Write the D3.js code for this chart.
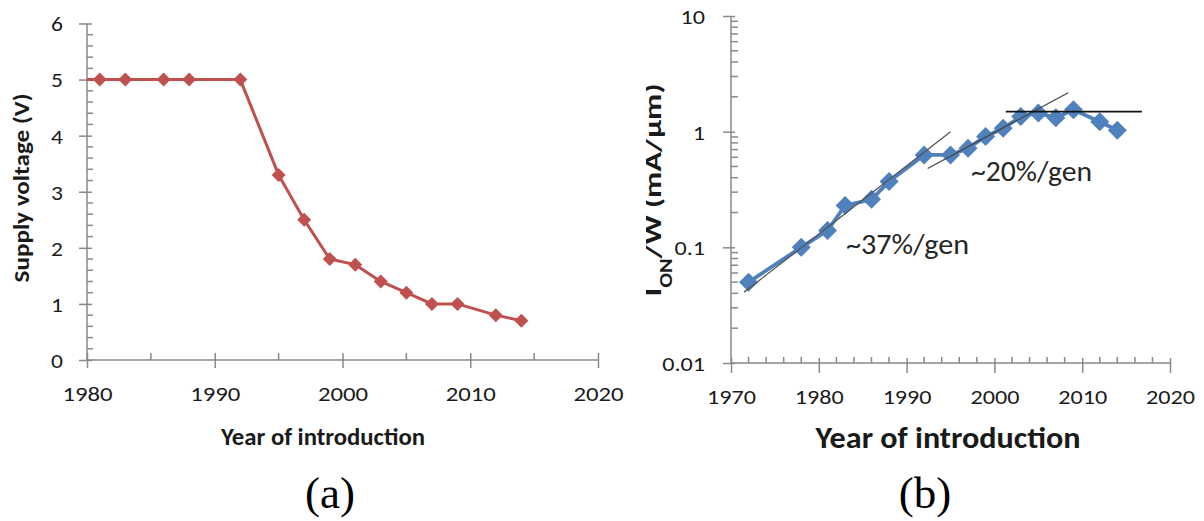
<!DOCTYPE html>
<html><head><meta charset="utf-8">
<script src="https://cdn.jsdelivr.net/npm/d3@7"></script>
<style>
html,body{margin:0;padding:0;background:#fff;}
svg text{font-family:Carlito,Calibri,Lato,"Open Sans",sans-serif;fill:#1a1a1a;}
</style></head>
<body><svg id="c" width="1204" height="521"></svg>
<script>
// ---- data (a) ----
const yearsA = [1978, 1981, 1983, 1986, 1988, 1992, 1995, 1997, 1999, 2001, 2003, 2005, 2007, 2009, 2012, 2014];
const voltsA = [5, 5, 5, 5, 5, 5, 3.3, 2.5, 1.8, 1.7, 1.4, 1.2, 1.0, 1.0, 0.8, 0.7];
const xTicksA = [1980, 1990, 2000, 2010, 2020];
const yTicksA = [0, 1, 2, 3, 4, 5, 6];
// ---- data (b) ----
const yearsB = [1972, 1978, 1981, 1983, 1986, 1988, 1992, 1995, 1997, 1999, 2001, 2003, 2005, 2007, 2009, 2012, 2014];
const ionB = [0.05, 0.1, 0.14, 0.23, 0.26, 0.37, 0.63, 0.63, 0.72, 0.91, 1.07, 1.35, 1.45, 1.32, 1.55, 1.22, 1.03];
const xTicksB = [1970, 1980, 1990, 2000, 2010, 2020];
const yTicksB = [0.01, 0.1, 1, 10];
const yTickLabelsB = ["0.01", "0.1", "1", "10"];
// trend lines: [x1, y1, x2, y2]
const trend37 = [1971.5, 0.041, 1995, 1.0];
const trend20 = [1992.4, 0.48, 2008.4, 2.17];
const plateau = [2001.3, 1.49, 2016.8, 1.49];

const svg = d3.select("#c");
const axisColor = "#898989";
const diamond = r => `M0,${-r}L${r},0L0,${r}L${-r},0Z`;
const tickFont = "21px";
function stretch(sel, f) {
  sel.each(function () {
    const w = this.getComputedTextLength();
    d3.select(this).attr("textLength", w * f).attr("lengthAdjust", "spacingAndGlyphs");
  });
}

// ================= chart (a) =================
const xA = d3.scaleLinear().domain([1980, 2020]).range([87, 598]);
const yA = d3.scaleLinear().domain([0, 6]).range([360, 23.5]);
const gA = svg.append("g");

svg.append("clipPath").attr("id", "clipA").append("rect")
  .attr("x", 87).attr("y", 0).attr("width", 520).attr("height", 380);

// y axis
const yAxA = gA.append("g").attr("transform", `translate(${xA(1980)},0)`)
  .call(d3.axisLeft(yA).tickValues(yTicksA).tickSize(8).tickFormat(d3.format("d")));
yAxA.select(".domain").remove();
yAxA.selectAll(".tick line").attr("x1", 5).attr("x2", -8).attr("stroke", axisColor).attr("stroke-width", 1.5);
yAxA.selectAll(".tick text").attr("x", -24).attr("dy", "0.35em").style("font-size", tickFont).call(stretch, 1.12);
const minorYA = d3.range(0, 6.001, 0.2).filter(v => Math.abs(v - Math.round(v)) > 1e-6);
gA.append("g").selectAll("line").data(minorYA).join("line")
  .attr("x1", xA(1980)).attr("x2", xA(1980) + 6)
  .attr("y1", d => yA(d)).attr("y2", d => yA(d)).attr("stroke", axisColor).attr("stroke-width", 1.5);
gA.append("line").attr("x1", xA(1980)).attr("x2", xA(1980)).attr("y1", yA(0)).attr("y2", yA(6))
  .attr("stroke", axisColor).attr("stroke-width", 1.5);

// x axis
const xAxA = gA.append("g").attr("transform", `translate(0,${yA(0)})`)
  .call(d3.axisBottom(xA).tickValues(xTicksA).tickSize(8).tickFormat(d3.format("d")));
xAxA.select(".domain").remove();
xAxA.selectAll(".tick line").attr("y1", -7).attr("y2", 8).attr("stroke", axisColor).attr("stroke-width", 1.5);
xAxA.selectAll(".tick text").attr("y", 34).attr("dy", "0.35em").style("font-size", tickFont).call(stretch, 1.18);
gA.append("g").selectAll("line").data([1985, 1995, 2005, 2015]).join("line")
  .attr("x1", d => xA(d)).attr("x2", d => xA(d)).attr("y1", yA(0)).attr("y2", yA(0) - 7)
  .attr("stroke", axisColor).attr("stroke-width", 1.5);
gA.append("line").attr("x1", xA(1980)).attr("x2", xA(2020)).attr("y1", yA(0)).attr("y2", yA(0))
  .attr("stroke", axisColor).attr("stroke-width", 1.5);

// series
const dataA = yearsA.map((y, i) => [y, voltsA[i]]);
const sA = gA.append("g").attr("clip-path", "url(#clipA)");
sA.append("path").datum(dataA)
  .attr("d", d3.line().x(d => xA(d[0])).y(d => yA(d[1])))
  .attr("fill", "none").attr("stroke", "#C0504D").attr("stroke-width", 3).attr("stroke-linejoin", "round");
sA.selectAll(".m").data(dataA).join("path")
  .attr("transform", d => `translate(${xA(d[0])},${yA(d[1])})`)
  .attr("d", diamond(7)).attr("fill", "#C0504D");

gA.append("text").attr("transform", "translate(21,188) rotate(-90)")
  .attr("text-anchor", "middle").attr("dominant-baseline", "central")
  .attr("textLength", 189).attr("lengthAdjust", "spacingAndGlyphs")
  .style("font-size", "23px").style("font-weight", "bold").text("Supply voltage (V)");
gA.append("text").attr("x", 323).attr("y", 436).attr("text-anchor", "middle").attr("dominant-baseline", "central")
  .attr("textLength", 204).attr("lengthAdjust", "spacingAndGlyphs")
  .style("font-size", "24px").style("font-weight", "bold").text("Year of introduction");
gA.append("text").attr("x", 330).attr("y", 493).attr("text-anchor", "middle").attr("dominant-baseline", "central")
  .style("font-family", "'Liberation Serif','Times New Roman',serif").style("font-size", "45px").style("fill", "#000").text("(a)");

// ================= chart (b) =================
const xB = d3.scaleLinear().domain([1970, 2020]).range([731, 1170]);
const yB = d3.scaleLog().domain([0.01, 10]).range([363, 16]);
const gB = svg.append("g");

const yAxB = gB.append("g").attr("transform", `translate(${xB(1970)},0)`)
  .call(d3.axisLeft(yB).tickValues(yTicksB).tickSize(8).tickFormat((d, i) => yTickLabelsB[i]));
yAxB.select(".domain").remove();
yAxB.selectAll(".tick line").attr("x1", 4).attr("x2", -8).attr("stroke", axisColor).attr("stroke-width", 1.5);
yAxB.selectAll(".tick text").attr("x", -26).attr("dy", "0.35em").style("font-size", tickFont).call(stretch, 1.15);
const minorYB = [];
[0.01, 0.1, 1].forEach(dec => { for (let k = 2; k <= 9; k++) minorYB.push(dec * k); });
gB.append("g").selectAll("line").data(minorYB).join("line")
  .attr("x1", xB(1970)).attr("x2", xB(1970) + 7)
  .attr("y1", d => yB(d)).attr("y2", d => yB(d)).attr("stroke", axisColor).attr("stroke-width", 1.5);
gB.append("line").attr("x1", xB(1970)).attr("x2", xB(1970)).attr("y1", yB(0.01)).attr("y2", yB(10))
  .attr("stroke", axisColor).attr("stroke-width", 1.5);

const xAxB = gB.append("g").attr("transform", `translate(0,${yB(0.01)})`)
  .call(d3.axisBottom(xB).tickValues(xTicksB).tickSize(8).tickFormat(d3.format("d")));
xAxB.select(".domain").remove();
xAxB.selectAll(".tick line").attr("y1", -5).attr("y2", 10).attr("stroke", axisColor).attr("stroke-width", 1.5);
xAxB.selectAll(".tick text").attr("y", 34).attr("dy", "0.35em").style("font-size", tickFont).call(stretch, 1.15);
const minorXB = d3.range(1972, 2020, 2).filter(v => v % 10 !== 0);
gB.append("g").selectAll("line").data(minorXB).join("line")
  .attr("x1", d => xB(d)).attr("x2", d => xB(d)).attr("y1", yB(0.01)).attr("y2", yB(0.01) - 6)
  .attr("stroke", axisColor).attr("stroke-width", 1.5);
gB.append("line").attr("x1", xB(1970)).attr("x2", xB(2020)).attr("y1", yB(0.01)).attr("y2", yB(0.01))
  .attr("stroke", axisColor).attr("stroke-width", 1.5);

const dataB = yearsB.map((y, i) => [y, ionB[i]]);
gB.append("path").datum(dataB)
  .attr("d", d3.line().x(d => xB(d[0])).y(d => yB(d[1])))
  .attr("fill", "none").attr("stroke", "#4F81BD").attr("stroke-width", 3.8).attr("stroke-linejoin", "round");
gB.selectAll(".m").data(dataB).join("path")
  .attr("transform", d => `translate(${xB(d[0])},${yB(d[1])})`)
  .attr("d", diamond(9.5)).attr("fill", "#4F81BD");

// trend lines
[[trend37, "#555", 1.3], [trend20, "#444", 1.3], [plateau, "#111", 1.8]].forEach(([t, c, w]) => {
  gB.append("line").attr("x1", xB(t[0])).attr("y1", yB(t[1])).attr("x2", xB(t[2])).attr("y2", yB(t[3]))
    .attr("stroke", c).attr("stroke-width", w);
});

gB.append("text").attr("x", 846).attr("y", 244).attr("dominant-baseline", "central")
  .attr("textLength", 123).attr("lengthAdjust", "spacingAndGlyphs")
  .style("font-size", "29px").style("fill", "#262626").text("~37%/gen");
gB.append("text").attr("x", 971).attr("y", 171).attr("dominant-baseline", "central")
  .attr("textLength", 121).attr("lengthAdjust", "spacingAndGlyphs")
  .style("font-size", "29px").style("fill", "#262626").text("~20%/gen");

svg.append("clipPath").attr("id", "clipYB").append("rect")
  .attr("x", 646).attr("y", 0).attr("width", 60).attr("height", 400);
const yl = gB.append("g").attr("clip-path", "url(#clipYB)").append("text")
  .attr("transform", "translate(661,190) rotate(-90)")
  .attr("text-anchor", "middle")
  .attr("textLength", 213).attr("lengthAdjust", "spacingAndGlyphs")
  .style("font-size", "25px").style("font-weight", "bold");
yl.append("tspan").text("I");
yl.append("tspan").attr("baseline-shift", "sub").style("font-size", "17px").text("ON");
yl.append("tspan").text("/W (mA/μm)");

gB.append("text").attr("x", 948).attr("y", 437).attr("text-anchor", "middle").attr("dominant-baseline", "central")
  .attr("textLength", 265).attr("lengthAdjust", "spacingAndGlyphs")
  .style("font-size", "31px").style("font-weight", "bold").text("Year of introduction");
gB.append("text").attr("x", 925).attr("y", 493).attr("text-anchor", "middle").attr("dominant-baseline", "central")
  .style("font-family", "'Liberation Serif','Times New Roman',serif").style("font-size", "45px").style("fill", "#000").text("(b)");
</script></body></html>
